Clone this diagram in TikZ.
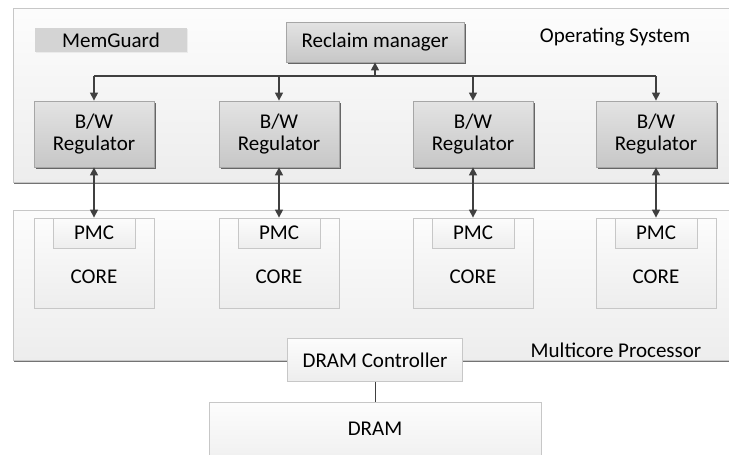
\documentclass[tikz,border=0pt]{standalone}
\usepackage{fontspec}
\setmainfont{Carlito}
\usetikzlibrary{arrows.meta,shadows}
\definecolor{linec}{HTML}{404040}
\begin{document}
\begin{tikzpicture}[x=1pt,y=-1pt,
  font=\fontsize{21}{24}\selectfont,
  container/.style={draw=black!22,line width=0.8pt,top color=black!1,bottom color=black!7,
     drop shadow={shadow xshift=1.2pt,shadow yshift=-1.5pt,fill=black!55,opacity=1}},
  graybox/.style={draw=black!35,line width=0.8pt,top color=black!11,bottom color=black!22,
     drop shadow={shadow xshift=1.5pt,shadow yshift=-1.5pt,fill=black!60,opacity=1}},
  whitebox/.style={draw=black!22,line width=0.8pt,top color=black!1,bottom color=black!7},
  conn/.style={draw=linec,line width=1.3pt},
  tip/.style={-{Triangle[length=8pt,width=8pt]}},
  dtip/.style={{Triangle[length=8pt,width=8pt]}-{Triangle[length=8pt,width=8pt]}},
  lbl/.style={inner sep=0pt,anchor=center}]
\useasboundingbox (0,0) rectangle (729,455);
% containers
\path[container] (13,8) rectangle (731,182);
\node[lbl] (os) at (615,37) {Operating System};
\path[container] (13,210) rectangle (731,360);
\node[lbl] (mp) at (616,350) {Multicore Processor};
% MemGuard
\node[fill=black!17,minimum width=152pt,minimum height=24pt,inner sep=0pt,
  drop shadow={shadow xshift=1pt,shadow yshift=-1pt,fill=black!8,opacity=1}] (mg) at (111,40) {MemGuard};
% Reclaim manager
\node[graybox,minimum width=178pt,minimum height=40pt,inner sep=0pt] (rm) at (375,42) {Reclaim manager};
% regulators, cores
\foreach \i/\x in {1/94,2/279,3/473,4/656}{
  \node[graybox,minimum width=120pt,minimum height=66pt,inner sep=0pt,align=center] (bw\i) at (\x,134) {B/W\\[-2pt]Regulator};
  \node[whitebox,minimum width=120pt,minimum height=90pt,inner sep=0pt] (core\i) at (\x,263) {};
  \node[whitebox,minimum width=82pt,minimum height=30pt,inner sep=0pt] (pmc\i) at (\x,233) {PMC};
  \node[lbl] (ct\i) at (\x,277) {CORE};
}
% bus
\coordinate (busl) at (94,76);
\coordinate (busr) at (656,76);
\coordinate (busm) at (375,76);
\draw[conn] (busl) -- (busr);
\draw[conn,tip] (busm) -- (rm.south);
\foreach \i/\x in {1/94,2/279,3/473,4/656}{
  \draw[conn,tip] (\x,76) -- (bw\i.north);
  \draw[conn,dtip] (bw\i.south) -- (pmc\i.north);
}
% DRAM
\node[whitebox,minimum width=175pt,minimum height=43pt,inner sep=0pt] (dc) at (375,360) {DRAM Controller};
\node[whitebox,minimum width=332pt,minimum height=70pt,inner sep=0pt,anchor=north] (dram) at (375,402) {};
\node[lbl] (dramt) at (375,429) {DRAM};
\draw[conn,line width=1pt] (dc.south) -- (dram.north);
\end{tikzpicture}
\end{document}
